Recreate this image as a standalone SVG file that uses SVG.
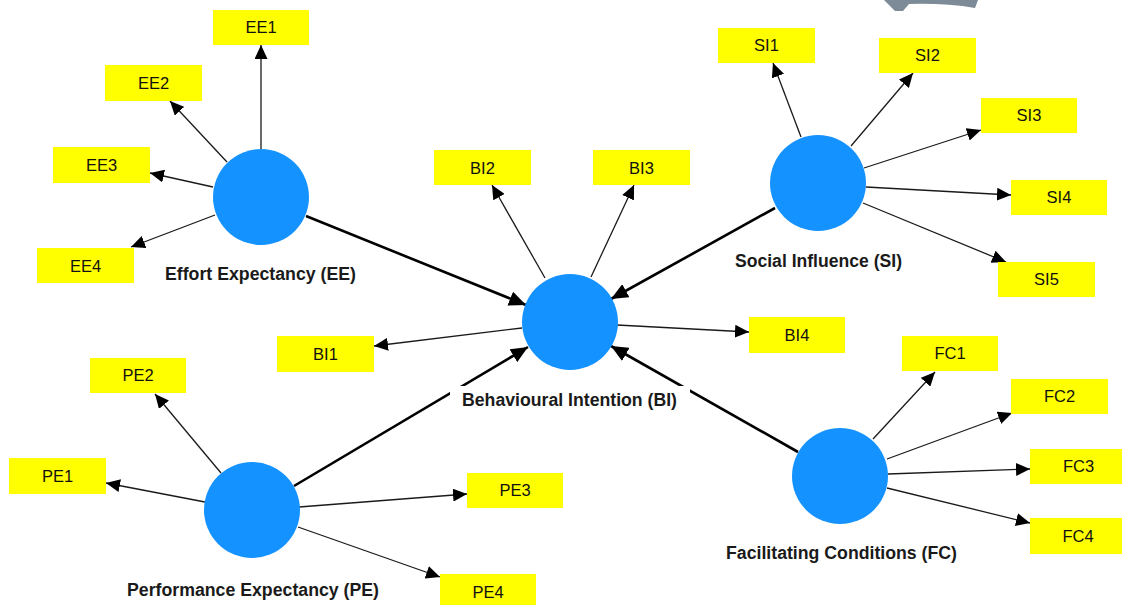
<svg xmlns="http://www.w3.org/2000/svg" width="1122" height="605" viewBox="0 0 1122 605">
<style>
.ind rect{fill:#ffff00}
.ind text{font-family:"Liberation Sans",Arial,sans-serif;font-size:16.5px;fill:#111;text-anchor:middle}
.lat circle{fill:#1492ff}
.lat text{font-family:"Liberation Sans",Arial,sans-serif;font-size:18px;font-weight:bold;fill:#1a1a1a;text-anchor:middle}
.bg{fill:#ffffff}
.thin{stroke:#1a1a1a;stroke-width:1.3;fill:none;marker-end:url(#ah)}
.thick{stroke:#000;stroke-width:2.6;fill:none;marker-end:url(#ahb)}
</style>
<defs>
<marker id="ah" viewBox="0 0 14 13" refX="14" refY="6.5" markerWidth="14" markerHeight="13" markerUnits="userSpaceOnUse" orient="auto"><path d="M0,0 L14,6.5 L0,13 z" fill="#000"/></marker>
<marker id="ahb" viewBox="0 0 17 15" refX="17" refY="7.5" markerWidth="17" markerHeight="15" markerUnits="userSpaceOnUse" orient="auto"><path d="M0,0 L17,7.5 L0,15 z" fill="#000"/></marker>
</defs>
<rect width="1122" height="605" fill="#ffffff"/>
<path d="M884,0 L978,0 L975,8 Q945,3 909,4 L903,11 L895,11 Z" fill="#7d8a98"/>
<g id="connectors">
<line class="thin" x1="261" y1="149" x2="261" y2="45"/>
<line class="thin" x1="227" y1="162" x2="170" y2="101"/>
<line class="thin" x1="213" y1="187" x2="150" y2="173"/>
<line class="thin" x1="215" y1="215" x2="131" y2="247"/>
<line class="thick" x1="306" y1="216" x2="526" y2="305"/>
<line class="thin" x1="522" y1="328" x2="374" y2="346"/>
<line class="thin" x1="545" y1="278" x2="492" y2="185"/>
<line class="thin" x1="591" y1="277" x2="634" y2="185"/>
<line class="thin" x1="617" y1="325" x2="749" y2="332"/>
<line class="thick" x1="775" y1="208" x2="611" y2="299"/>
<line class="thick" x1="798" y1="452" x2="611" y2="346"/>
<line class="thick" x1="294" y1="486" x2="528" y2="347"/>
<line class="thin" x1="801" y1="137" x2="773" y2="63"/>
<line class="thin" x1="851" y1="146" x2="913" y2="73"/>
<line class="thin" x1="864" y1="168" x2="981" y2="130"/>
<line class="thin" x1="866" y1="187" x2="1011" y2="195"/>
<line class="thin" x1="863" y1="203" x2="1006" y2="262"/>
<line class="thin" x1="873" y1="439" x2="935" y2="372"/>
<line class="thin" x1="887" y1="459" x2="1012" y2="413"/>
<line class="thin" x1="888" y1="474" x2="1030" y2="469"/>
<line class="thin" x1="887" y1="488" x2="1030" y2="523"/>
<line class="thin" x1="205" y1="502" x2="106" y2="483"/>
<line class="thin" x1="221" y1="473" x2="155" y2="394"/>
<line class="thin" x1="299" y1="507" x2="467" y2="494"/>
<line class="thin" x1="298" y1="527" x2="440" y2="577"/>
</g>
<g id="EE" class="lat"><circle cx="261" cy="197" r="48"/><text x="260.5" y="280" textLength="191" lengthAdjust="spacingAndGlyphs">Effort Expectancy (EE)</text></g>
<g id="BI" class="lat"><circle cx="570" cy="322" r="48"/><rect class="bg" x="450" y="386" width="240" height="28"/><text x="569.5" y="406" textLength="215" lengthAdjust="spacingAndGlyphs">Behavioural Intention (BI)</text></g>
<g id="SI" class="lat"><circle cx="818" cy="183" r="48"/><text x="818.5" y="267" textLength="167" lengthAdjust="spacingAndGlyphs">Social Influence (SI)</text></g>
<g id="FC" class="lat"><circle cx="840" cy="476" r="48"/><text x="841.5" y="559" textLength="231" lengthAdjust="spacingAndGlyphs">Facilitating Conditions (FC)</text></g>
<g id="PE" class="lat"><circle cx="252" cy="510" r="48"/><text x="253" y="596" textLength="252" lengthAdjust="spacingAndGlyphs">Performance Expectancy (PE)</text></g>
<g id="EE1" class="ind"><rect x="213" y="10" width="96" height="35"/><text x="261" y="33">EE1</text></g>
<g id="EE2" class="ind"><rect x="105" y="65" width="97" height="36"/><text x="153.5" y="89">EE2</text></g>
<g id="EE3" class="ind"><rect x="53" y="147" width="97" height="36"/><text x="101.5" y="171">EE3</text></g>
<g id="EE4" class="ind"><rect x="37" y="248" width="97" height="35"/><text x="85.5" y="272">EE4</text></g>
<g id="BI1" class="ind"><rect x="277" y="336" width="97" height="36"/><text x="325.5" y="360">BI1</text></g>
<g id="BI2" class="ind"><rect x="434" y="150" width="97" height="35"/><text x="482.5" y="174">BI2</text></g>
<g id="BI3" class="ind"><rect x="593" y="150" width="97" height="35"/><text x="641.5" y="174">BI3</text></g>
<g id="BI4" class="ind"><rect x="749" y="317" width="96" height="36"/><text x="797" y="341">BI4</text></g>
<g id="SI1" class="ind"><rect x="718" y="28" width="97" height="35"/><text x="766.5" y="51">SI1</text></g>
<g id="SI2" class="ind"><rect x="879" y="38" width="97" height="35"/><text x="927.5" y="61">SI2</text></g>
<g id="SI3" class="ind"><rect x="981" y="98" width="96" height="35"/><text x="1029" y="121">SI3</text></g>
<g id="SI4" class="ind"><rect x="1011" y="180" width="96" height="35"/><text x="1059" y="203">SI4</text></g>
<g id="SI5" class="ind"><rect x="998" y="262" width="97" height="35"/><text x="1046.5" y="285">SI5</text></g>
<g id="FC1" class="ind"><rect x="902" y="336" width="96" height="35"/><text x="950" y="359">FC1</text></g>
<g id="FC2" class="ind"><rect x="1011" y="379" width="97" height="35"/><text x="1059.5" y="402">FC2</text></g>
<g id="FC3" class="ind"><rect x="1030" y="449" width="97" height="35"/><text x="1078.5" y="472">FC3</text></g>
<g id="FC4" class="ind"><rect x="1030" y="518" width="96" height="36"/><text x="1078" y="542">FC4</text></g>
<g id="PE1" class="ind"><rect x="9" y="458" width="97" height="36"/><text x="57.5" y="482">PE1</text></g>
<g id="PE2" class="ind"><rect x="90" y="358" width="96" height="35"/><text x="138" y="381">PE2</text></g>
<g id="PE3" class="ind"><rect x="467" y="473" width="96" height="35"/><text x="515" y="496">PE3</text></g>
<g id="PE4" class="ind"><rect x="440" y="574" width="96" height="36"/><text x="488" y="598">PE4</text></g>
</svg>
